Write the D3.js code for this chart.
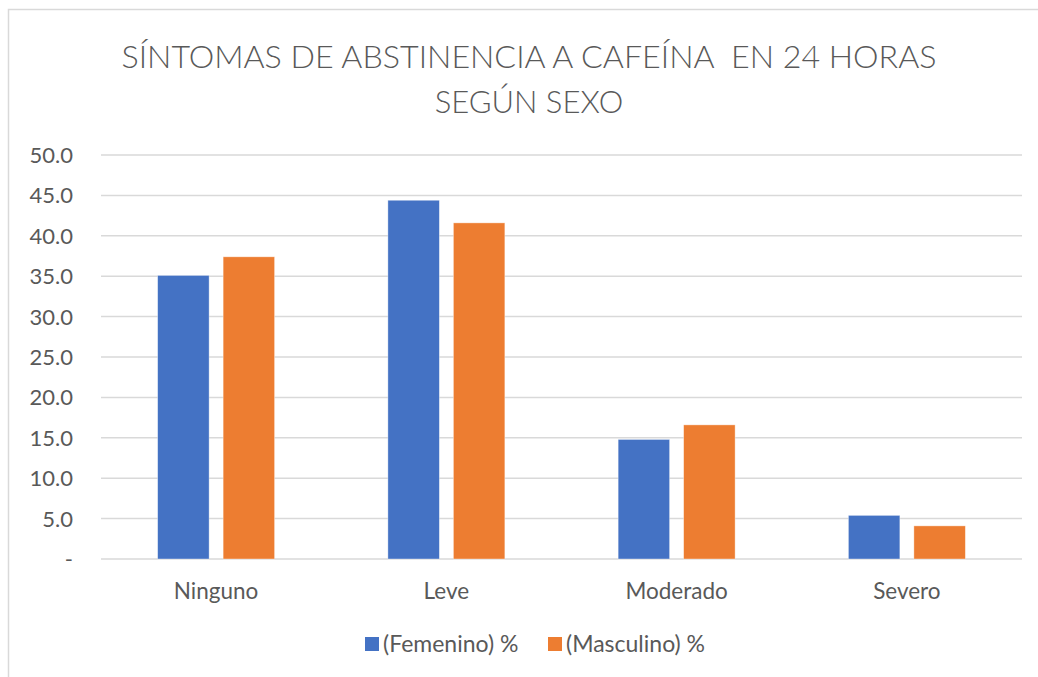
<html>
<head>
<title>Síntomas de abstinencia a cafeína</title>
<script src="https://cdn.jsdelivr.net/npm/d3@7"></script>
<style>
  body { margin: 0; background: #fff; }
  text { font-family: Lato, "Liberation Sans", sans-serif; fill: #595959; }
</style>
</head>
<body>
<div id="chart"></div>
<script>
// data
var categorias = ["Ninguno", "Leve", "Moderado", "Severo"];
var series = ["(Femenino) %", "(Masculino) %"];
var femenino = [35.1, 44.4, 14.8, 5.4];
var masculino = [37.4, 41.6, 16.6, 4.1];
var yTicks = [0, 5, 10, 15, 20, 25, 30, 35, 40, 45, 50];
var tituloLineas = ["SÍNTOMAS DE ABSTINENCIA A CAFEÍNA  EN 24 HORAS", "SEGÚN SEXO"];

var colores = ["#4472C4", "#ED7D31"];
var width = 1038, height = 677;

var svg = d3.select("#chart").append("svg")
    .attr("width", width)
    .attr("height", height);

// chart frame (cut off on right/bottom like the screenshot)
svg.append("rect")
    .attr("x", 8.5).attr("y", 9.5)
    .attr("width", 1200).attr("height", 1000)
    .attr("fill", "#fff")
    .attr("stroke", "#d9d9d9")
    .attr("stroke-width", 1.5);

// title (keep the double space)
svg.selectAll(".titulo")
    .data(tituloLineas)
    .enter().append("text")
    .attr("class", "titulo")
    .attr("x", 529)
    .attr("y", function(d, i) { return 68 + i * 45; })
    .attr("text-anchor", "middle")
    .style("font-size", "31px")
    .style("font-weight", 300)
    .style("white-space", "pre")
    .text(function(d) { return d; })
    .each(function(d, i) {
        // the original font is narrower, squeeze to match
        if (i == 0) d3.select(this).attr("textLength", 815).attr("lengthAdjust", "spacingAndGlyphs");
    });

// plot area (names avoid window.top)
var pLeft = 101, pRight = 1022, pTop = 155, pBottom = 559;

var y = d3.scaleLinear().domain([0, 50]).range([pBottom, pTop]);
var x0 = d3.scaleBand().domain(categorias).range([pLeft, pRight])
    .paddingInner(0.492).paddingOuter(0.246);
var x1 = d3.scaleBand().domain(series).range([0, x0.bandwidth()])
    .paddingInner(0.214);

// gridlines
svg.append("g")
    .selectAll("line")
    .data(yTicks)
    .enter().append("line")
    .attr("x1", pLeft).attr("x2", pRight)
    .attr("y1", function(d) { return y(d); })
    .attr("y2", function(d) { return y(d); })
    .attr("stroke", "#d9d9d9")
    .attr("stroke-width", 1.5);

// y tick labels
svg.append("g")
    .selectAll("text")
    .data(yTicks)
    .enter().append("text")
    .attr("x", 73)
    .attr("y", function(d) { return y(d) + 8; })
    .attr("text-anchor", "end")
    .style("font-size", "22px")
    .text(function(d) { return d == 0 ? "-" : d.toFixed(1); });

// bars
var filas = categorias.map(function(c, i) { return { cat: c, vals: [femenino[i], masculino[i]] }; });

var grupos = svg.append("g")
    .selectAll("g")
    .data(filas)
    .enter().append("g")
    .attr("transform", function(d) { return "translate(" + x0(d.cat) + ",0)"; });

grupos.selectAll("rect")
    .data(function(d) { return d.vals.map(function(v, j) { return { s: series[j], v: v, j: j }; }); })
    .enter().append("rect")
    .attr("x", function(d) { return x1(d.s); })
    .attr("width", x1.bandwidth())
    .attr("y", function(d) { return y(d.v); })
    .attr("height", function(d) { return pBottom - y(d.v); })
    .attr("fill", function(d) { return colores[d.j]; })
    .attr("stroke", "#fff")
    .attr("stroke-opacity", 0.5)
    .attr("stroke-width", 0.75);

// category labels
svg.append("g")
    .selectAll("text")
    .data(categorias)
    .enter().append("text")
    .attr("x", function(d) { return x0(d) + x0.bandwidth() / 2; })
    .attr("y", 599)
    .attr("text-anchor", "middle")
    .style("font-size", "22.5px")
    .text(function(d) { return d; });

// legend
var legX = [365, 548];
var leyenda = svg.append("g")
    .selectAll("g")
    .data(series)
    .enter().append("g")
    .attr("transform", function(d, i) { return "translate(" + legX[i] + ",637)"; });

leyenda.append("rect")
    .attr("width", 14).attr("height", 14)
    .attr("fill", function(d, i) { return colores[i]; });

leyenda.append("text")
    .attr("x", 18)
    .attr("y", 15)
    .style("font-size", "23px")
    .text(function(d) { return d; });
</script>
</body>
</html>
